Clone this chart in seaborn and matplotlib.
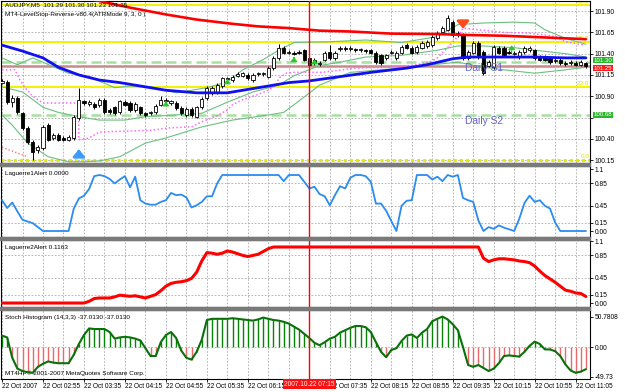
import numpy as np
import matplotlib
matplotlib.use("Agg")
import matplotlib.pyplot as plt
import matplotlib.transforms as mtransforms
from matplotlib.patches import Rectangle
import seaborn as sns

sns.set_style("white")
plt.rcParams['font.family'] = ['Liberation Sans', 'DejaVu Sans']

# ---------------- data (AUDJPY M5, 22 Oct 2007) ----------------
opens = [101.06, 101.07, 100.83, 100.88, 100.70, 100.53, 100.36, 100.27, 100.29, 100.56,
         100.41, 100.45, 100.41, 100.39, 100.41, 100.65, 100.84, 100.81, 100.81, 100.80,
         100.86, 100.74, 100.77, 100.71, 100.83, 100.82, 100.74, 100.77, 100.70, 100.70,
         100.71, 100.80, 100.84, 100.82, 100.82, 100.76, 100.68, 100.75, 100.66, 100.77,
         100.88, 100.94, 100.95, 101.02, 101.10, 101.09, 101.14, 101.14, 101.15, 101.09,
         101.16, 101.16, 101.13, 101.23, 101.35, 101.47, 101.41, 101.41, 101.42, 101.44,
         101.35, 101.29, 101.28, 101.33, 101.42, 101.35, 101.45, 101.47, 101.45, 101.45,
         101.44, 101.44, 101.44, 101.41, 101.38, 101.35, 101.41, 101.35, 101.41, 101.50,
         101.47, 101.42, 101.47, 101.49, 101.50, 101.58, 101.65, 101.68, 101.77, 101.64,
         101.62, 101.35, 101.41, 101.53, 101.42, 101.26, 101.24, 101.47, 101.47, 101.42,
         101.40, 101.36, 101.42, 101.44, 101.44, 101.36, 101.36, 101.35, 101.31, 101.33,
         101.29, 101.29, 101.29, 101.27, 101.29]
closes = [101.08, 100.83, 100.88, 100.71, 100.53, 100.36, 100.25, 100.30, 100.54, 100.39,
          100.45, 100.39, 100.39, 100.42, 100.66, 100.86, 100.82, 100.83, 100.77, 100.86,
          100.71, 100.71, 100.70, 100.84, 100.80, 100.74, 100.81, 100.70, 100.68, 100.71,
          100.79, 100.86, 100.86, 100.84, 100.76, 100.70, 100.75, 100.68, 100.77, 100.87,
          101.00, 101.00, 101.03, 101.11, 101.11, 101.13, 101.16, 101.17, 101.11, 101.15,
          101.17, 101.17, 101.23, 101.35, 101.47, 101.41, 101.42, 101.40, 101.41, 101.33,
          101.27, 101.33, 101.29, 101.41, 101.35, 101.41, 101.47, 101.45, 101.47, 101.44,
          101.45, 101.43, 101.41, 101.30, 101.29, 101.38, 101.42, 101.41, 101.48, 101.47,
          101.41, 101.48, 101.53, 101.54, 101.60, 101.64, 101.70, 101.82, 101.62, 101.62,
          101.35, 101.42, 101.53, 101.36, 101.17, 101.30, 101.48, 101.41, 101.38, 101.41,
          101.41, 101.42, 101.47, 101.47, 101.35, 101.33, 101.33, 101.30, 101.33, 101.29,
          101.28, 101.30, 101.27, 101.30, 101.25]
highs = [101.10, 101.09, 100.92, 100.90, 100.72, 100.55, 100.39, 100.33, 100.56, 100.58,
         100.47, 100.47, 100.43, 100.44, 100.68, 101.00, 100.86, 100.85, 100.83, 100.88,
         100.88, 100.76, 100.79, 100.86, 100.85, 100.84, 100.83, 100.79, 100.72, 100.73,
         100.81, 100.90, 100.88, 100.86, 100.84, 100.78, 100.77, 100.77, 100.79, 100.89,
         101.02, 101.02, 101.05, 101.13, 101.13, 101.15, 101.18, 101.19, 101.17, 101.17,
         101.19, 101.19, 101.25, 101.37, 101.51, 101.49, 101.44, 101.43, 101.44, 101.46,
         101.37, 101.35, 101.31, 101.43, 101.50, 101.43, 101.49, 101.49, 101.49, 101.47,
         101.47, 101.46, 101.46, 101.43, 101.40, 101.40, 101.44, 101.43, 101.50, 101.52,
         101.49, 101.50, 101.55, 101.56, 101.62, 101.66, 101.72, 101.85, 101.79, 101.66,
         101.64, 101.44, 101.55, 101.55, 101.44, 101.32, 101.50, 101.49, 101.49, 101.44,
         101.43, 101.44, 101.49, 101.49, 101.46, 101.38, 101.38, 101.37, 101.35, 101.35,
         101.31, 101.32, 101.31, 101.32, 101.30]
lows = [101.04, 100.81, 100.77, 100.69, 100.50, 100.34, 100.15, 100.23, 100.27, 100.37,
        100.39, 100.37, 100.37, 100.37, 100.39, 100.62, 100.80, 100.79, 100.75, 100.77,
        100.69, 100.69, 100.68, 100.69, 100.78, 100.72, 100.71, 100.68, 100.66, 100.68,
        100.69, 100.78, 100.82, 100.80, 100.74, 100.68, 100.66, 100.66, 100.64, 100.75,
        100.86, 100.92, 100.93, 101.00, 101.08, 101.07, 101.12, 101.12, 101.09, 101.07,
        101.14, 101.14, 101.11, 101.21, 101.33, 101.39, 101.39, 101.38, 101.39, 101.31,
        101.25, 101.27, 101.26, 101.31, 101.33, 101.33, 101.43, 101.43, 101.43, 101.42,
        101.42, 101.41, 101.39, 101.28, 101.27, 101.33, 101.39, 101.33, 101.39, 101.45,
        101.39, 101.40, 101.45, 101.47, 101.48, 101.56, 101.63, 101.66, 101.60, 101.60,
        101.33, 101.33, 101.39, 101.34, 101.15, 101.24, 101.22, 101.39, 101.36, 101.39,
        101.38, 101.34, 101.40, 101.42, 101.33, 101.31, 101.31, 101.28, 101.29, 101.27,
        101.26, 101.27, 101.25, 101.25, 101.23]

ma_red_x = [0, 10, 18, 25, 32, 38, 45, 50, 56, 62, 68, 76, 85, 90, 98, 104, 110, 114]
ma_red_y = [102.27, 102.13, 102.03, 101.94, 101.86, 101.80, 101.75, 101.72, 101.70, 101.67,
            101.66, 101.635, 101.63, 101.62, 101.61, 101.595, 101.58, 101.57]
ma_blue_x = [0, 4, 8, 11, 15, 19, 23, 29, 32, 38, 44, 47, 51, 56, 60, 66, 72, 79, 83, 88,
             91, 98, 104, 110, 114]
ma_blue_y = [101.50, 101.43, 101.35, 101.24, 101.15, 101.09, 101.06, 101.00, 100.97, 100.94,
             100.94, 100.97, 101.01, 101.06, 101.08, 101.13, 101.18, 101.23, 101.27, 101.34,
             101.36, 101.36, 101.36, 101.35, 101.35]
bb_up_x = [0, 3, 6, 13, 17, 22, 25, 29, 34, 40, 44, 47, 51, 54, 57, 64, 71, 78, 85, 89,
           94, 100, 104, 106, 110, 114]
bb_up_y = [101.35, 101.27, 101.35, 101.17, 101.13, 101.00, 101.02, 101.01, 100.94, 101.00,
           101.07, 101.21, 101.33, 101.44, 101.53, 101.54, 101.56, 101.53, 101.60, 101.74,
           101.76, 101.77, 101.76, 101.68, 101.58, 101.51]
bb_mid_x = [0, 4, 8, 11, 15, 19, 24, 28, 34, 39, 44, 49, 54, 57, 62, 66, 71, 78, 85, 89,
            94, 100, 104, 110, 114]
bb_mid_y = [101.01, 100.95, 100.77, 100.71, 100.66, 100.62, 100.62, 100.66, 100.68, 100.70,
            100.83, 100.95, 101.03, 101.14, 101.26, 101.30, 101.36, 101.38, 101.44, 101.49,
            101.49, 101.47, 101.44, 101.40, 101.36]
bb_low_x = [0, 2, 5, 9, 13, 16, 19, 23, 28, 32, 39, 45, 52, 55, 57, 62, 68, 78, 84, 89,
            94, 98, 104, 110, 114]
bb_low_y = [100.68, 100.56, 100.35, 100.19, 100.13, 100.13, 100.14, 100.19, 100.35, 100.41,
            100.54, 100.62, 100.68, 100.71, 100.80, 101.03, 101.18, 101.23, 101.27, 101.30,
            101.24, 101.21, 101.17, 101.21, 101.24]
stop_x = [0, 2.5, 3.5, 4.5, 6, 8, 15, 15, 17, 19, 29, 33, 37, 39, 42, 44, 45, 47, 49.5, 52,
          53.5, 54, 55.5, 57, 62.5, 69, 75.5, 81, 83.5, 85, 85.5, 87, 88, 89.3, 90, 93, 98,
          103, 106, 108, 110, 113.6]
stop_y = [101.21, 101.21, 101.09, 101.00, 100.90, 100.82, 100.82, 100.39, 100.41, 100.48,
          100.50, 100.53, 100.54, 100.60, 100.67, 100.74, 100.80, 100.86, 100.91, 100.97,
          101.03, 101.11, 101.17, 101.18, 101.18, 101.23, 101.24, 101.27, 101.30, 101.35,
          101.38, 101.47, 101.54, 101.62, 101.70, 101.68, 101.65, 101.64, 101.62, 101.60,
          101.54, 101.50]
stop2_x = [0, 5]
stop2_y = [100.30, 100.19]

fib_levels = [100.15, 101.009, 101.54, 101.97]
fib_names = ["0.0", "23.6", "38.2", "50.0"]
pivot_levels = [101.30, 100.68]
s1_level = 101.25

laguerre1 = [0.55, 0.41, 0.51, 0.35, 0.20, 0.17, 0.14, 0.07, 0.0, 0.0,
             0.0, 0.0, 0.0, 0.0, 0.40, 0.58, 0.63, 0.75, 0.98, 1.0,
             0.98, 0.93, 0.85, 0.92, 0.98, 0.78, 0.97, 0.55, 0.49, 0.47,
             0.47, 0.52, 0.55, 0.68, 0.64, 0.65, 0.60, 0.42, 0.46, 0.52,
             0.62, 0.62, 0.85, 1.0, 1.0, 1.0, 1.0, 1.0, 1.0, 1.0,
             1.0, 1.0, 1.0, 1.0, 1.0, 0.89, 1.0, 1.0, 1.0, 0.88,
             0.76, 0.79, 0.66, 0.62, 0.46, 0.64, 0.80, 0.76, 0.95, 1.0,
             1.0, 0.98, 0.88, 0.49, 0.49, 0.36, 0.18, 0.0, 0.45, 0.54,
             0.55, 1.0, 1.0, 1.0, 0.92, 0.97, 0.89, 1.0, 0.97, 1.0,
             0.59, 0.55, 0.52, 0.19, 0.0, 0.07, 0.04, 0.10, 0.06, 0.03,
             0.0, 0.22, 0.50, 0.63, 0.52, 0.55, 0.45, 0.40, 0.15, 0.0,
             0.0, 0.0, 0.0, 0.0, 0.0]
laguerre2 = [0.0, 0.0, 0.0, 0.0, 0.0, 0.0, 0.0, 0.0, 0.0, 0.0,
             0.0, 0.0, 0.0, 0.0, 0.0, 0.0, 0.0, 0.03, 0.08, 0.09,
             0.09, 0.09, 0.11, 0.14, 0.13, 0.12, 0.13, 0.11, 0.09, 0.12,
             0.15, 0.22, 0.30, 0.35, 0.37, 0.38, 0.40, 0.44, 0.55, 0.75,
             0.90, 0.89, 0.87, 0.89, 0.93, 0.91, 0.88, 0.85, 0.83, 0.85,
             0.87, 0.92, 0.97, 1.0, 1.0, 1.0, 1.0, 1.0, 1.0, 1.0,
             1.0, 1.0, 1.0, 1.0, 1.0, 1.0, 1.0, 1.0, 1.0, 1.0,
             1.0, 1.0, 1.0, 1.0, 1.0, 1.0, 1.0, 1.0, 1.0, 1.0,
             1.0, 1.0, 1.0, 1.0, 1.0, 1.0, 1.0, 1.0, 1.0, 1.0,
             1.0, 1.0, 1.0, 1.0, 0.80, 0.74, 0.77, 0.79, 0.79, 0.78,
             0.77, 0.75, 0.74, 0.72, 0.66, 0.57, 0.49, 0.43, 0.37, 0.30,
             0.23, 0.21, 0.18, 0.17, 0.1163]
stoch = [19, 16, -18, -36, -40, -42, -43, -33, -28, -24,
         -26, -27, -27, -27, -13, 5, 20, 31, 30, 30,
         30, 25, 14, 16, 17, 16, 14, 11, -2, -15,
         -15, 8, 20, 25, 15, -6, -18, -21, -8, 12,
         45, 47, 47, 47, 47, 48, 47, 46, 45, 44,
         46, 49, 47, 45, 44, 42, 39, 34, 29, 22,
         15, 7, 3, 8, 14, 17, 24, 28, 32, 35,
         35, 33, 25, 8, -8, -17, -5, -2, 10, 19,
         21, 15, 24, 30, 43, 47, 50.78, 46, 38, 28,
         0, -30, -33, -30, -35, -40, -36, -27, -15, -14,
         -15, -16, -8, 2, 9, 5, -4, -4, -7, -15,
         -29, -39, -43, -41, -37.013]

tick_bars = [0, 8, 16, 24, 32, 40, 48, 64, 72, 80, 88, 96, 104, 112]
tick_labels = ["22 Oct 2007", "22 Oct 02:55", "22 Oct 03:35", "22 Oct 04:15",
               "22 Oct 04:55", "22 Oct 05:35", "22 Oct 06:15", "22 Oct 07:35",
               "22 Oct 08:15", "22 Oct 08:55", "22 Oct 09:35", "22 Oct 10:15",
               "22 Oct 10:55", "22 Oct 11:05"]
cursor_bar = 60
cursor_label = "2007.10.22 07:15"
price_ticks = [100.15, 100.40, 100.65, 100.90, 101.15, 101.40, 101.65, 101.90]

# ---------------- figure ----------------
W, H = 625, 392
fig = plt.figure(figsize=(6.25, 3.92), dpi=100)
fig.patch.set_facecolor("white")


def panel(top, bottom):
    a = fig.add_axes([1 / W, 1 - bottom / H, 589 / W, (bottom - top) / H])
    a.set_facecolor("white")
    for s in a.spines.values():
        s.set_color("black")
        s.set_linewidth(0.8)
    a.set_xlim(-0.2, 114.8)
    a.yaxis.tick_right()
    a.tick_params(axis="y", labelsize=4.8, length=2, width=0.6, pad=1.5, colors="black")
    a.tick_params(axis="x", bottom=False, labelbottom=False)
    return a


ax = panel(1, 163)
ax1 = panel(166, 237)
ax2 = panel(240, 307)
ax3 = panel(310, 379)

grid_kw = dict(color="#a8a8a8", lw=0.6, ls=(0, (2, 2)), zorder=0)
for a in (ax, ax1, ax2, ax3):
    for b in range(0, 115, 4):
        a.axvline(b, **grid_kw)
    a.axvline(cursor_bar, color="#ff0000", lw=1.0, zorder=6)

# separators between windows
for y0 in (163, 237, 307):
    fig.patches.append(Rectangle((0, 1 - (y0 + 3) / H), 590 / W, 3 / H,
                                 transform=fig.transFigure, color="#7a7a7a", zorder=10))

# ---------------- main price window ----------------
ax.set_ylim(100.116, 102.018)
ax.set_yticks(price_ticks)
ax.set_yticklabels(["%.2f" % v if abs(v - 100.65) > 1e-6 else "" for v in price_ticks])
for v in price_ticks:
    ax.axhline(v, **grid_kw)

bars = np.arange(len(opens))
o = np.array(opens); c = np.array(closes)
for lv in fib_levels[1:]:
    ax.axhline(lv, color="#f2f200", lw=1.4, zorder=1)
ax.axhline(fib_levels[0], color="#e8e800", lw=2.2, ls=(0, (1, 1)), zorder=1)
for lv, nm in zip(fib_levels, fib_names):
    ax.text(114.7, lv + 0.01, nm, ha="right", va="bottom", fontsize=4.6,
            color="#e0e000", clip_on=True, zorder=2)
for lv in pivot_levels:
    ax.axhline(lv, color="#a6e0a0", lw=1.8, ls=(0, (4, 2)), zorder=1)
ax.axhline(s1_level, color="#c98a8a", lw=1.8, zorder=1)

sns.lineplot(x=bb_up_x, y=bb_up_y, ax=ax, color="#6cbf80", lw=0.8, zorder=2)
sns.lineplot(x=bb_mid_x, y=bb_mid_y, ax=ax, color="#6cbf80", lw=0.8, zorder=2)
sns.lineplot(x=bb_low_x, y=bb_low_y, ax=ax, color="#6cbf80", lw=0.8, zorder=2)
sns.lineplot(x=stop_x, y=stop_y, ax=ax, color="#ff66ff", lw=1.1, ls=(0, (1, 1.5)),
             sort=False, estimator=None, zorder=2)
sns.lineplot(x=stop2_x, y=stop2_y, ax=ax, color="#ff7070", lw=1.0, ls=(0, (1, 1.5)),
             sort=False, estimator=None, zorder=2)

# candles
ax.vlines(bars, lows, highs, color="black", lw=0.7, zorder=3)
body_lo = np.minimum(o, c)
body_h = np.maximum(np.abs(c - o), 0.004)
ax.bar(bars, body_h, bottom=body_lo, width=0.62,
       color=["white" if cc >= oo else "black" for oo, cc in zip(o, c)],
       edgecolor="black", linewidth=0.6, zorder=3)

sns.lineplot(x=ma_red_x, y=ma_red_y, ax=ax, color="#ff0000", lw=1.9, zorder=4)
sns.lineplot(x=ma_blue_x, y=ma_blue_y, ax=ax, color="#1010f0", lw=2.0, zorder=4)

# signal arrows
ax.annotate("", xy=(15, 100.31), xytext=(15, 100.20),
            arrowprops=dict(arrowstyle="-|>,head_width=0.5,head_length=0.6",
                            color="#3a9cff", lw=2.0, mutation_scale=7), zorder=5)
ax.annotate("", xy=(90, 101.66), xytext=(90, 101.78),
            arrowprops=dict(arrowstyle="-|>,head_width=0.5,head_length=0.6",
                            color="#ff4a1a", lw=2.0, mutation_scale=7), zorder=5)
for bx, y0, y1 in [(32, 100.80, 100.87), (44, 101.06, 101.13), (57, 101.32, 101.39),
                   (61, 101.27, 101.33), (99.5, 101.38, 101.53)]:
    ax.annotate("", xy=(bx, y1), xytext=(bx, y0),
                arrowprops=dict(arrowstyle="-|>,head_width=0.4,head_length=0.5",
                                color="#22cc22", lw=0.8, mutation_scale=5), zorder=5)

ax.text(90.4, 101.23, "Daily S1", color="#6464cc", fontsize=7.4, va="center", ha="left", zorder=6)
ax.text(90.4, 100.61, "Daily S2", color="#6464cc", fontsize=7.4, va="center", ha="left", zorder=6)

ax.text(0.006, 0.99, "AUDJPY,M5  101.29 101.30 101.23 101.25", transform=ax.transAxes,
        va="top", ha="left", fontsize=4.6, color="black", zorder=7)
ax.text(0.006, 0.935, "MT4-LevelStop-Reverse-v80.4(ATRMode 9, 3, 0 )", transform=ax.transAxes,
        va="top", ha="left", fontsize=4.6, color="black", zorder=7)

# price labels on the right scale (nudged apart so the boxes do not collide)
tr = mtransforms.blended_transform_factory(ax.transAxes, ax.transData)
for lv, txt, fc in [(101.322, "101.30", "#2bb52b"), (100.68, "100.68", "#2bb52b"),
                    (101.228, "101.25", "#ff1a1a")]:
    ax.text(1.006, lv, txt, transform=tr, ha="left", va="center", fontsize=4.4,
            color="white", clip_on=False, zorder=8,
            bbox=dict(boxstyle="square,pad=0.08", fc=fc, ec="none"))

# ---------------- Laguerre 1 ----------------
ax1.set_ylim(-0.107, 1.161)
lag_ticks = [0.0, 0.15, 0.45, 0.85, 1.1]
ax1.set_yticks(lag_ticks)
ax1.set_yticklabels(["0.00", "0.15", "0.45", "0.85", "1.1"])
for v in lag_ticks[1:4]:
    ax1.axhline(v, **grid_kw)
sns.lineplot(x=bars, y=laguerre1, ax=ax1, color="#2a8cf0", lw=1.3, zorder=4)
ax1.text(0.006, 0.93, "Laguerre1Alert 0.0000", transform=ax1.transAxes, va="top",
         ha="left", fontsize=4.6, color="black")

# ---------------- Laguerre 2 ----------------
ax2.set_ylim(-0.071, 1.125)
ax2.set_yticks(lag_ticks)
ax2.set_yticklabels(["0.00", "0.15", "0.45", "0.85", "1.1"])
for v in lag_ticks[1:4]:
    ax2.axhline(v, **grid_kw)
sns.lineplot(x=bars, y=laguerre2, ax=ax2, color="#ff0000", lw=2.2, zorder=4)
ax2.text(0.006, 0.93, "Laguerre2Alert 0.1163", transform=ax2.transAxes, va="top",
         ha="left", fontsize=4.6, color="black")

# ---------------- Stoch histogram ----------------
ax3.set_ylim(-53.3, 61.7)
ax3.set_yticks([-49.73, 0.0, 50.7808])
ax3.set_yticklabels(["-49.73", "0.00", "50.7808"])
ax3.axhline(0, **grid_kw)
st = np.array(stoch, dtype=float)
pos = st >= 0
ax3.vlines(bars[pos], 0, st[pos], color="#0a820a", lw=1.0, zorder=3)
ax3.vlines(bars[~pos], 0, st[~pos], color="#e86a6a", lw=1.0, zorder=3)
sns.lineplot(x=bars, y=stoch, ax=ax3, color="#0a700a", lw=1.5, zorder=4)
ax3.text(0.006, 0.93, "Stoch Histogram (14,3,3) -37.0130 -37.0130", transform=ax3.transAxes,
         va="top", ha="left", fontsize=4.6, color="black")
ax3.text(0.006, 0.04, "MT4HP© 2001-2007 MetaQuotes Software Corp.", transform=ax3.transAxes,
         va="bottom", ha="left", fontsize=4.6, color="black", zorder=2)

ax3.tick_params(axis="x", bottom=True, labelbottom=True, length=2, width=0.6,
                pad=1.2, labelsize=4.7, colors="black")
ax3.set_xticks(tick_bars)
ax3.set_xticklabels(tick_labels, ha="left")
trx = mtransforms.blended_transform_factory(ax3.transData, ax3.transAxes)
ax3.text(cursor_bar, -0.025, cursor_label, transform=trx, ha="center", va="top",
         fontsize=4.7, color="white", clip_on=False, zorder=9,
         bbox=dict(boxstyle="square,pad=0.2", fc="#ff1010", ec="none"))

for a in (ax, ax1, ax2, ax3):
    a.set_xlabel("")
    a.set_ylabel("")
    a.set_xlim(-0.2, 114.8)

fig.savefig("out.png", dpi=100, facecolor="white")
